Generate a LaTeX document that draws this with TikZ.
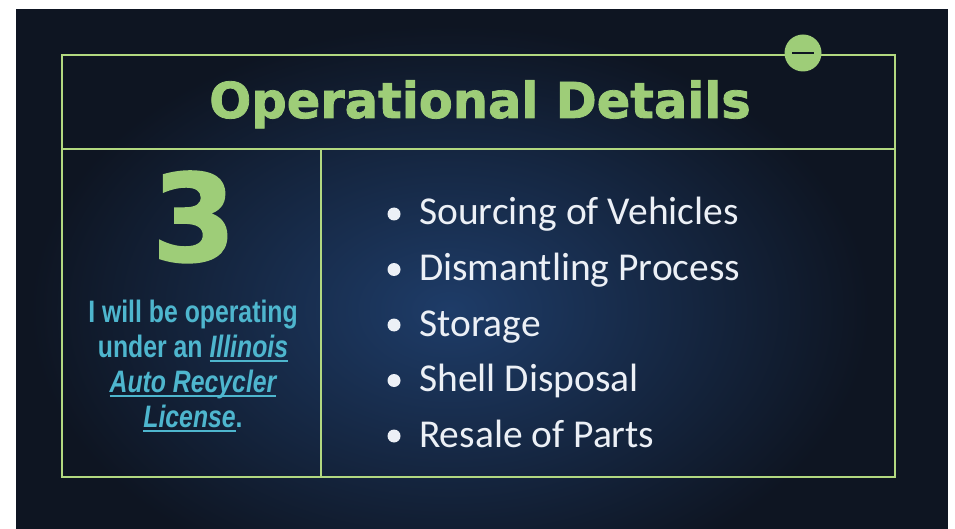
\documentclass[tikz,border=0pt]{standalone}
\usepackage{fontspec}
\setmainfont{Carlito}
\newfontfamily\headfont[FakeBold=1.6]{DejaVu Sans Bold}
\newfontfamily\narrowfont[FakeStretch=0.8]{Liberation Sans}
\newcommand{\licline}[1]{\setbox0\hbox{#1}\rlap{\usebox0}\rule[-4.5pt]{\wd0}{1.8pt}}

\definecolor{skydark}{RGB}{14,21,34}
\definecolor{skyglow}{RGB}{30,60,104}
\definecolor{framegreen}{RGB}{178,216,128}
\definecolor{headgreen}{RGB}{158,205,120}
\definecolor{licblue}{RGB}{78,182,206}
\definecolor{itemwhite}{RGB}{236,240,246}

\tikzset{
	frame/.style={draw=framegreen, line width=2.6pt},
	minusdot/.style={shape=circle, fill=headgreen, minimum size=37pt, inner sep=0pt},
	headtext/.style={text=headgreen, font=\headfont\fontsize{49.5}{56}\selectfont, inner sep=0pt},
	bignum/.style={text=headgreen, font=\headfont\fontsize{121}{130}\selectfont, inner sep=0pt},
	lictext/.style={text=licblue, font=\narrowfont\bfseries\fontsize{31}{35}\selectfont, align=center, inner sep=0pt},
	bulletdot/.style={shape=circle, fill=itemwhite, minimum size=13pt, inner sep=0pt},
	item/.style={text=itemwhite, font=\fontsize{39.5}{44}\selectfont, anchor=base west, inner sep=0pt}
}

\begin{document}
\begin{tikzpicture}[x=1pt,y=-1pt]
	\useasboundingbox (0,0) rectangle (955,529);
	\fill[white] (0,0) rectangle (955,529);
	\fill[skydark] (16,9) rectangle (948,529);
	\begin{scope}
		\clip (16,9) rectangle (948,529);
		\shade[inner color=skyglow, outer color=skydark] (450,310) ellipse (420pt and 285pt);
	\end{scope}

	% frame and dividers
	\draw[frame] (62,55) rectangle (895,477);
	\draw[frame] (62,149) -- (895,149);
	\draw[frame] (321,149) -- (321,477);
	\node[minusdot] (minus) at (803,53) {};
	\draw[skydark, line width=2.2pt] ([xshift=-11pt]minus.center) -- ([xshift=11pt]minus.center);

	\node[headtext, anchor=base] (title) at (480,118) {Operational Details};
	\node[bignum, anchor=base] (three) at (194,261) {3};
	\node[lictext, anchor=north] (licence) at (193,300) {I will be operating\\
		under an \licline{\itshape Illinois}\\
		\licline{\itshape Auto Recycler}\\
		\licline{\itshape License}.};

	% list
	\node[bulletdot] (b1) at (394,214) {};
	\node[item] (i1) at (419,225) {Sourcing of Vehicles};
	\node[bulletdot] (b2) at (394,269.5) {};
	\node[item] (i2) at (419,280.5) {Dismantling Process};
	\node[bulletdot] (b3) at (394,325) {};
	\node[item] (i3) at (419,336) {Storage};
	\node[bulletdot] (b4) at (394,380.5) {};
	\node[item] (i4) at (419,391.5) {Shell Disposal};
	\node[bulletdot] (b5) at (394,436) {};
	\node[item] (i5) at (419,447) {Resale of Parts};
\end{tikzpicture}
\end{document}
